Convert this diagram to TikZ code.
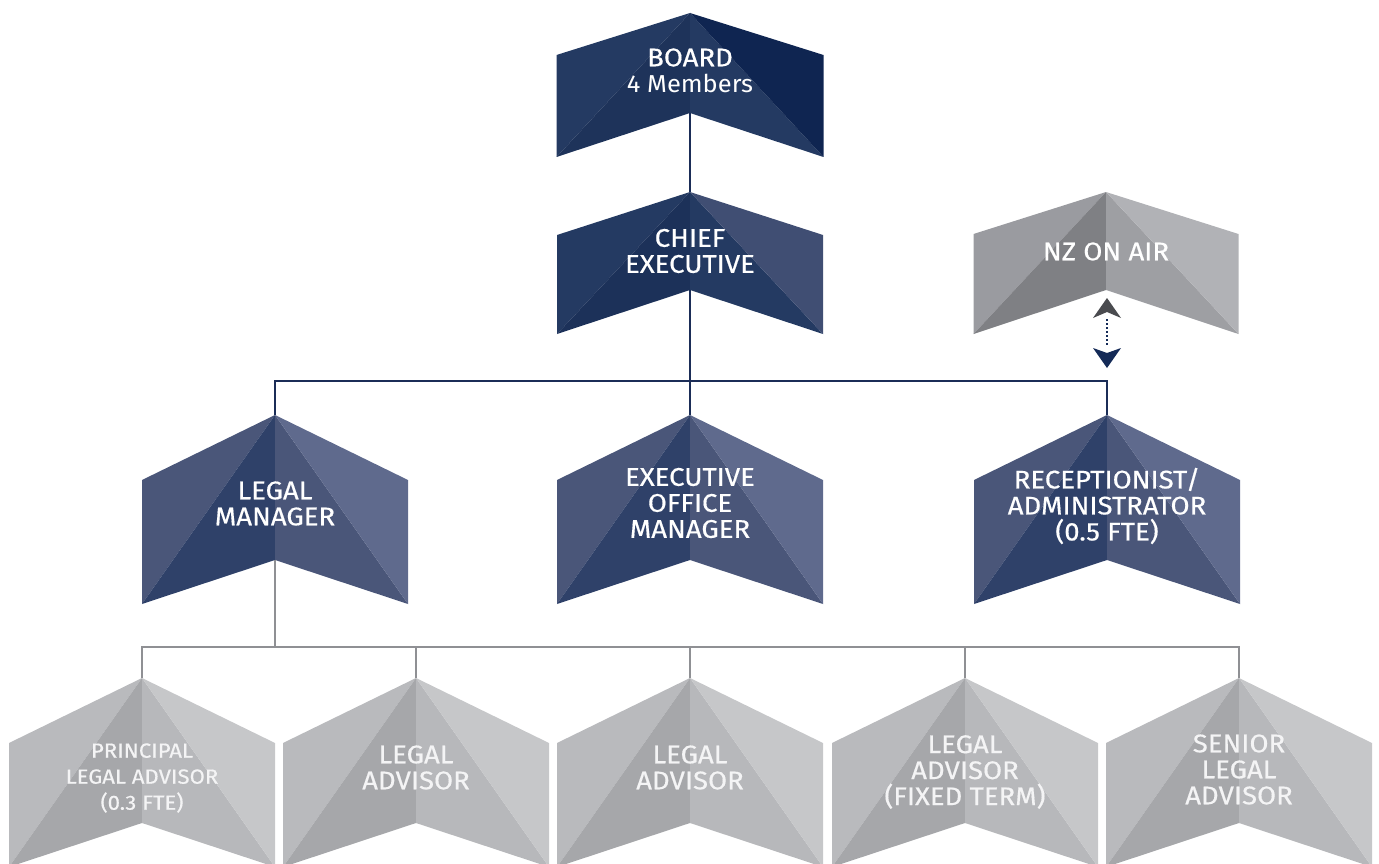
\documentclass[tikz,border=0pt]{standalone}
\usepackage{fontspec}
\setmainfont{Fira Sans}
\newfontfamily\din[FakeBold=0.5,FakeStretch=1.08]{Fira Sans}
\newfontfamily\dinlight[FakeStretch=1.04]{Fira Sans}
\definecolor{boLO}{HTML}{243A62}
\definecolor{boLI}{HTML}{1E335A}
\definecolor{boRI}{HTML}{243A62}
\definecolor{boRO}{HTML}{0F2551}
\definecolor{ceLO}{HTML}{243A62}
\definecolor{ceLI}{HTML}{1C3159}
\definecolor{ceRI}{HTML}{243A62}
\definecolor{ceRO}{HTML}{404E73}
\definecolor{miLO}{HTML}{4A5679}
\definecolor{miLI}{HTML}{2F4169}
\definecolor{miRI}{HTML}{4A5679}
\definecolor{miRO}{HTML}{5F6A8D}
\definecolor{nzLO}{HTML}{9A9BA0}
\definecolor{nzLI}{HTML}{7F8084}
\definecolor{nzRI}{HTML}{9E9FA3}
\definecolor{nzRO}{HTML}{B1B2B6}
\definecolor{btLO}{HTML}{B9BABD}
\definecolor{btLI}{HTML}{A6A7AA}
\definecolor{btRI}{HTML}{B7B8BB}
\definecolor{btRO}{HTML}{C6C7C9}
\definecolor{navyline}{HTML}{1B2D57}
\definecolor{grayline}{HTML}{8F9094}
\definecolor{arrowgray}{HTML}{4A4B4F}
\definecolor{arrownavy}{HTML}{142A57}
\definecolor{lbltext}{HTML}{FFFFFF}
\definecolor{lbltextgray}{HTML}{F4F4F5}
% #1 name, #2 cx, #3 top, #4 side drop, #5 notch drop, #6 bottom drop, #7 palette, #8 half width
\newcommand\chev[8]{%
  \coordinate (#1-top) at (#2,#3);
  \coordinate (#1-bot) at (#2,#3+#5);
  \coordinate (#1-lt) at (#2-#8,#3+#4);
  \coordinate (#1-lb) at (#2-#8,#3+#6);
  \coordinate (#1-rt) at (#2+#8,#3+#4);
  \coordinate (#1-rb) at (#2+#8,#3+#6);
  \fill[#7LO] (#1-top)--(#1-lt)--(#1-lb)--cycle;
  \fill[#7LI] (#1-top)--(#1-lb)--(#1-bot)--cycle;
  \fill[#7RI] (#1-top)--(#1-bot)--(#1-rb)--cycle;
  \fill[#7RO] (#1-top)--(#1-rb)--(#1-rt)--cycle;
}
\begin{document}
\begin{tikzpicture}[x=1pt,y=-1pt,
  lbl/.style={text=lbltext,align=center,inner sep=0pt,font=\din\fontsize{25.5}{26}\selectfont},
  lblgray/.style={lbl,text=lbltextgray},
  navyconn/.style={draw=navyline,line width=2pt,line join=miter},
  grayconn/.style={draw=grayline,line width=2pt,line join=miter}]
\useasboundingbox (0,0) rectangle (1379,864);
% top row
\chev{board}{690}{13}{42}{100}{144}{bo}{133.5}
\chev{chief}{690}{192}{43}{98}{142}{ce}{133}
\chev{nzoa}{1106}{192}{42}{98}{142}{nz}{132.5}
% middle row
\chev{legal}{275}{415}{65}{145}{189}{mi}{133}
\chev{exec}{690}{415}{65}{145}{189}{mi}{133}
\chev{recep}{1107}{415}{65}{145}{189}{mi}{133}
% bottom row
\chev{pla}{142}{678}{65}{145}{189}{bt}{133}
\chev{la1}{416}{678}{65}{145}{189}{bt}{133}
\chev{la2}{690}{678}{65}{145}{189}{bt}{133}
\chev{laf}{965}{678}{65}{145}{189}{bt}{133}
\chev{sla}{1239}{678}{65}{145}{189}{bt}{133}
% labels
\node[lbl] (boardt) at (690,70.5) {BOARD\\{\dinlight\fontsize{24.5}{26}\selectfont 4 Members}};
\node[lbl] (chieft) at (690,251) {CHIEF\\EXECUTIVE};
\node[lbl] (nzoat) at (1106,251.5) {NZ ON AIR};
\node[lbl] (legalt) at (275,503.5) {LEGAL\\MANAGER};
\node[lbl] (exect) at (690,503) {EXECUTIVE\\OFFICE\\MANAGER};
\node[lbl] (recept) at (1107,506) {RECEPTIONIST/\\ADMINISTRATOR\\(0.5 FTE)};
\node[lblgray,font=\din\fontsize{20.5}{26}\selectfont] (plat) at (142,778) {PRINCIPAL\\LEGAL ADVISOR\\(0.3 FTE)};
\node[lblgray] (la1t) at (416,767.5) {LEGAL\\ADVISOR};
\node[lblgray] (la2t) at (690,767.5) {LEGAL\\ADVISOR};
\node[lblgray] (laft) at (965,772) {LEGAL\\ADVISOR\\(FIXED TERM)};
\node[lblgray] (slat) at (1239,769.5) {SENIOR\\LEGAL\\ADVISOR};
% connectors
\coordinate (bus1) at (690,381);
\coordinate (bus2) at (275,647);
\draw[navyconn] (board-bot) -- (chief-top);
\draw[navyconn] (chief-bot) -- (exec-top);
\draw[navyconn] (legal-top) |- (bus1);
\draw[navyconn] (recep-top) |- (bus1);
\draw[grayconn] (legal-bot) -- (bus2);
\draw[grayconn] (pla-top) |- (bus2);
\draw[grayconn] (sla-top) |- (bus2);
\draw[grayconn] (la1-top) -- (la1-top |- bus2);
\draw[grayconn] (la2-top) -- (la2-top |- bus2);
\draw[grayconn] (laf-top) -- (laf-top |- bus2);
% two-way dotted arrow
\coordinate (arrup) at (1107,298);
\coordinate (arrdn) at (1107,368);
\fill[arrowgray] (arrup) -- ++(14,20) -- ++(-14,-6) -- ++(-14,6) -- cycle;
\fill[arrownavy] (arrdn) -- ++(14,-20) -- ++(-14,5) -- ++(-14,-5) -- cycle;
\draw[draw=arrownavy,line width=2.2pt,dash pattern=on 2pt off 2pt] ([yshift=-21pt]arrup) -- ([yshift=23pt]arrdn);
\end{tikzpicture}
\end{document}
